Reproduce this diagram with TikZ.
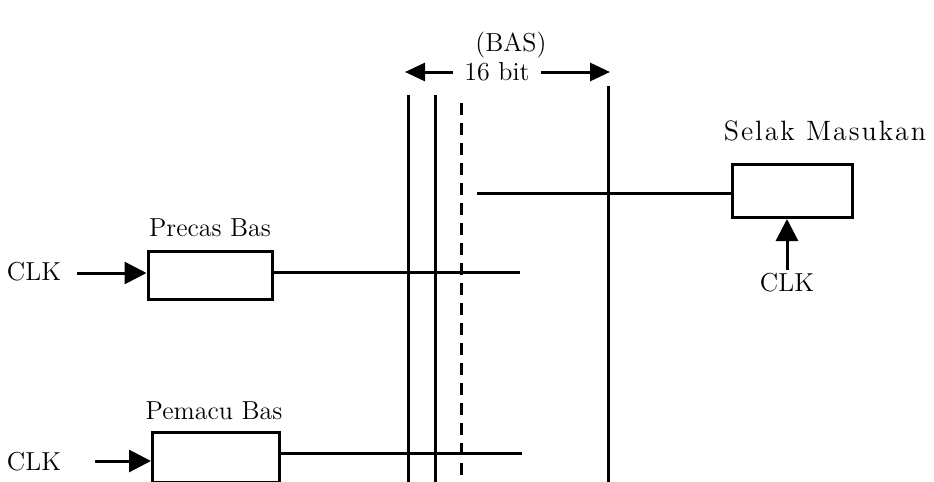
\documentclass[tikz,border=0pt]{standalone}
\usepackage{fontspec}
\usetikzlibrary{arrows.meta}
\newfontfamily\widefont[LetterSpace=7]{Latin Modern Roman}
\tikzset{
  reg/.style={draw,rectangle,inner sep=0pt},
  lbl/.style={inner sep=1pt},
  clk/.style={-{Triangle[length=11pt,width=11pt]}},
  span/.style={-{Triangle[length=10pt,width=9pt]}}
}
\begin{document}
\begin{tikzpicture}[x=.5pt,y=-.5pt,line width=1.5pt,font=\fontsize{13}{15}\selectfont]
\clip (0,0) rectangle (934,482);
% bus lines
\draw (408,95)--(408,482) (435,95)--(435,482) (608,86)--(608,482);
\draw[dashed,dash pattern=on 6pt off 4pt] (461,103)--(461,482);
\node[lbl] (bas) at (511,45) {(BAS)};
\node[lbl] (width) at (497,72) {16 bit};
\coordinate (wl) at (405,72);
\coordinate (wr) at (610,72);
\draw[span] ([xshift=-4]width.west)--(wl);
\draw[span] ([xshift=4]width.east)--(wr);
% Selak Masukan
\node[reg,minimum width=60pt,minimum height=26.5pt] (selak) at (792,191) {};
\node[lbl,font=\fontsize{14}{16}\widefont] (selakl) at (825,131) {Selak Masukan};
\node[lbl] (clks) at (787,283) {CLK};
\coordinate (sin) at (477,193);
\draw (sin)--(sin-|selak.west);
\draw[clk] (clks.north)--(selak.south-|clks.north);
% Precas Bas
\node[reg,minimum width=62pt,minimum height=24pt] (precas) at (210,275) {};
\node[lbl] (precasl) at (210,228) {Precas Bas};
\node[lbl] (clkp) at (34,272) {CLK};
\coordinate (pin) at (77,273);
\coordinate (pout) at (520,272);
\draw[clk] (pin)--(precas.west|-pin);
\draw (precas.east|-pout)--(pout);
% Pemacu Bas
\node[reg,minimum width=63.5pt,minimum height=25pt] (pemacu) at (216,457) {};
\node[lbl] (pemacul) at (214,411) {Pemacu Bas};
\node[lbl] (clkm) at (34,462) {CLK};
\coordinate (min) at (95,461);
\coordinate (mout) at (522,453);
\draw[clk] (min)--(pemacu.west|-min);
\draw (pemacu.east|-mout)--(mout);
\end{tikzpicture}
\end{document}
